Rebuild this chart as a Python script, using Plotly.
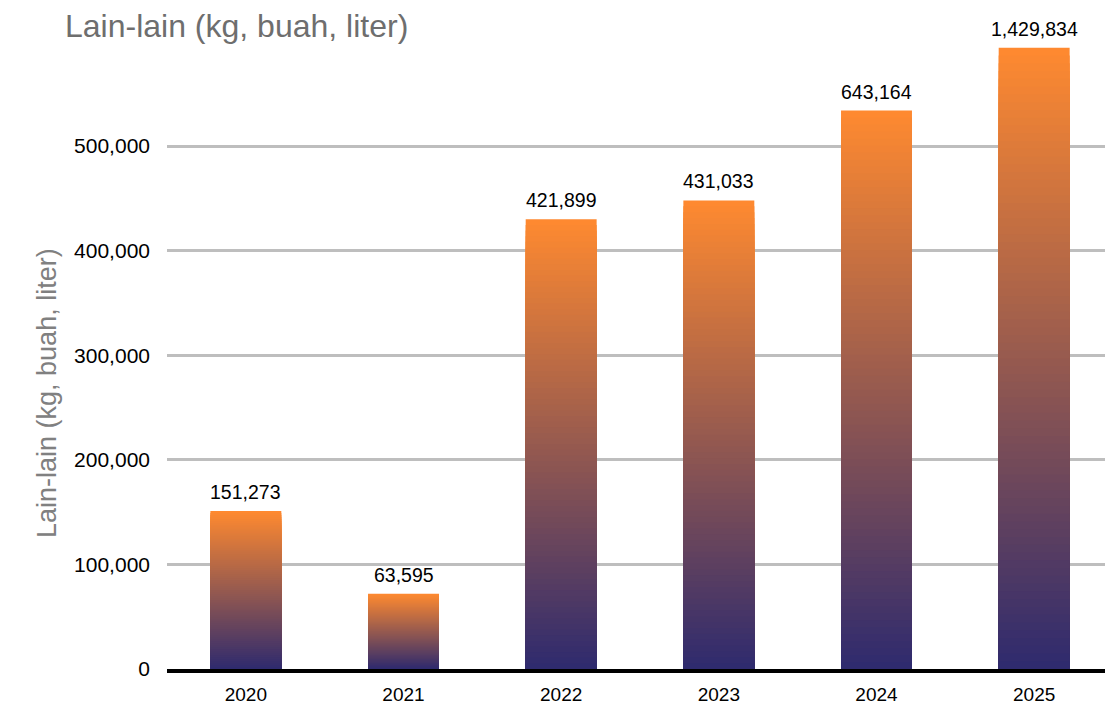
import plotly.graph_objects as go

years = ["2020", "2021", "2022", "2023", "2024", "2025"]
bar_heights = [151000, 72000, 430000, 448000, 534000, 594000]
bar_labels = ["151,273", "63,595", "421,899", "431,033", "643,164", "1,429,834"]
y_ticks = [0, 100000, 200000, 300000, 400000, 500000]
y_tick_text = ["0", "100,000", "200,000", "300,000", "400,000", "500,000"]

top_rgb = (255, 138, 48)
bottom_rgb = (46, 42, 110)
N = 80

fig = go.Figure()
for k in range(N):
    frac = 1 - k / N
    t = 1 - (k + 0.5) / N  # position of band center (1 = top)
    c = tuple(round(bottom_rgb[i] + (top_rgb[i] - bottom_rgb[i]) * t) for i in range(3))
    fig.add_trace(go.Bar(
        x=years, y=[v * frac for v in bar_heights],
        marker=dict(color="rgb(%d,%d,%d)" % c, line=dict(width=0)),
        width=0.45, hoverinfo="skip", showlegend=False,
    ))

# category axis: annotations are placed by category index
annotations = [
    dict(x=i, y=v, text=lab, showarrow=False, xref="x", yref="y",
         yanchor="bottom", yshift=6,
         font=dict(size=19.5, color="#000000", family="Arial, Liberation Sans"))
    for i, (v, lab) in enumerate(zip(bar_heights, bar_labels))
]
annotations.append(dict(text="Lain-lain (kg, buah, liter)", textangle=-90,
                        xref="paper", yref="paper", x=(30 - 167) / 946, y=(669 - 393) / 639,
                        showarrow=False, font=dict(size=27, color="#808080")))

# page body has an 8px margin, so the figure is shifted by 8px
fig.update_layout(
    width=1105, height=696,
    barmode="overlay",
    plot_bgcolor="white", paper_bgcolor="white",
    margin=dict(l=159, r=0, t=22, b=35),
    font=dict(family="Arial, Liberation Sans", color="#000000"),
    title=dict(text="Lain-lain (kg, buah, liter)", x=(65 - 8) / 1105, xanchor="left",
               xref="container", yref="container", y=1 - (26 - 8) / 696, yanchor="middle",
               font=dict(size=32, color="#6E6E6E")),
    xaxis=dict(type="category", showline=True, linecolor="#000000", linewidth=4, showgrid=False,
               ticks="", tickfont=dict(size=19), ticklabelstandoff=5),
    yaxis=dict(range=[0, 611000], tickvals=y_ticks, ticktext=y_tick_text,
               showgrid=True, gridcolor="#BEBEBE", gridwidth=3, zeroline=False,
               tickfont=dict(size=21), ticklabelstandoff=16),
    annotations=annotations,
)

fig.write_html("out.html")
